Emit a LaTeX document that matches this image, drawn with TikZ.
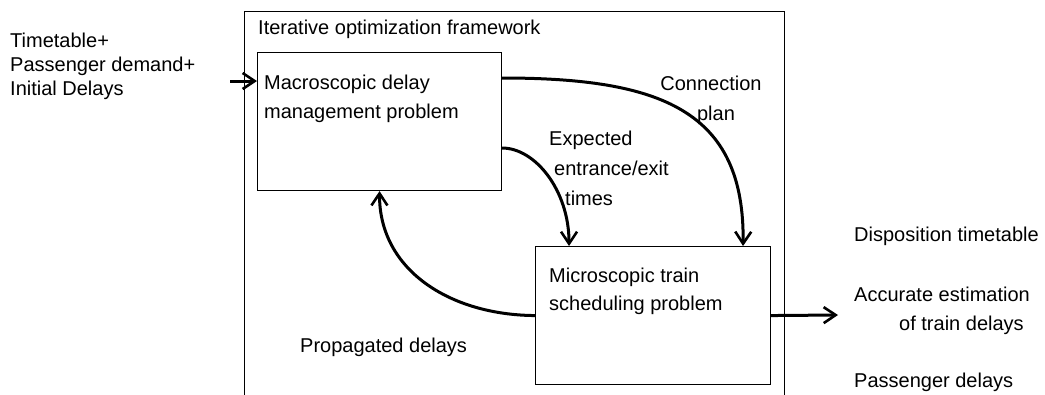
\documentclass[tikz,border=0pt]{standalone}
\usepackage{fontspec}
\setmainfont{Liberation Sans}
\usetikzlibrary{arrows.meta}

\begin{document}
\begin{tikzpicture}[x=1pt,y=-1pt,
  lbl/.style={font=\fontsize{20}{24}\selectfont,anchor=north west,inner sep=0pt,align=left},
  box/.style={draw,line width=1.1pt,anchor=north west,inner sep=0pt},
  flow/.style={line width=3pt,-{Straight Barb[length=12pt,width=16pt,line width=2.6pt]}}]
\useasboundingbox (0,0) rectangle (1045,394);
% framework and the two problems
\node[box,line width=0.9pt,minimum width=540,minimum height=400] (frame) at (244,11) {};
\node[box,minimum width=244,minimum height=138] (macro) at (257,52) {};
\node[box,minimum width=235,minimum height=138] (micro) at (535,246) {};
\node[lbl] (title) at (258,20) {Iterative optimization framework};
\node[lbl,font=\fontsize{20}{29}\selectfont] (macrotxt) at (264,75) {Macroscopic delay\\management problem};
\node[lbl,font=\fontsize{20}{28}\selectfont] (microtxt) at (549,268) {Microscopic train\\scheduling problem};
% inputs and outputs
\node[lbl] (inputs) at (10,33) {Timetable+\\Passenger demand+\\Initial Delays};
\node[lbl] (disp) at (854,227) {Disposition timetable};
\node[lbl,font=\fontsize{20}{29}\selectfont] (acc) at (854,287) {Accurate estimation\\\hspace*{45pt}of train delays};
\node[lbl] (pax) at (854,373) {Passenger delays};
% arrow labels
\node[lbl,anchor=north,align=center,font=\fontsize{20}{30}\selectfont] (cplan) at (711,76) {Connection\\\hspace*{10pt}plan};
\node[lbl,font=\fontsize{20}{30}\selectfont] (expect) at (549,131) {Expected\\\hspace*{5pt}entrance/exit\\\hspace*{16pt}times};
\node[lbl] (prop) at (300,338) {Propagated delays};
\coordinate (in) at (230,81);
\coordinate (out) at (838,315);
\draw[flow] (in) -- (in -| macro.west);
\draw[flow] ([yshift=-26pt]macro.north east) .. controls (660,78) and (745,110) .. ([xshift=90pt]micro.north);
\draw[flow] ([yshift=-96pt]macro.north east) .. controls (535,148) and (569,190) .. ([xshift=-84pt]micro.north);
\draw[flow] (micro.west) .. controls (450,315) and (379,270) .. (macro.south);
\draw[flow] (micro.east) -- (out);
\end{tikzpicture}
\end{document}
